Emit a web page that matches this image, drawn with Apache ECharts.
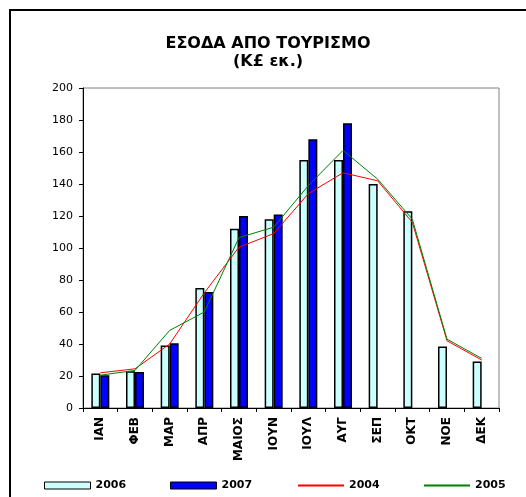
<!DOCTYPE html>
<html>
<head>
<meta charset="utf-8">
<script src="https://cdn.jsdelivr.net/npm/echarts@6/dist/echarts.min.js"></script>
<style>html,body{margin:0;padding:0;background:#fff;}#c{width:526px;height:497px;}</style>
</head>
<body>
<div id="c"></div>
<script>
const months = ['ΙΑΝ','ΦΕΒ','ΜΑΡ','ΑΠΡ','ΜΑΙΟΣ','ΙΟΥΝ','ΙΟΥΛ','ΑΥΓ','ΣΕΠ','ΟΚΤ','ΝΟΕ','ΔΕΚ'];
const v2006 = [21.5, 23, 39, 75, 112, 118, 155, 155, 140, 123, 38.5, 29];
const v2007 = [20.5, 22.5, 40.5, 72.5, 120, 121, 168, 178, null, null, null, null];
const v2004 = [22, 24.5, 40, 72, 100.5, 109, 134, 147, 142, 116, 42, 30];
const v2005 = [20.5, 23.5, 48.5, 60, 106.5, 113, 139, 161, 143, 118, 43, 31];
const yTicks = {min: 0, max: 200, interval: 20};
const titleText = 'ΕΣΟΔΑ ΑΠΟ ΤΟΥΡΙΣΜΟ\n(Κ£ εκ.)';

const chart = echarts.init(document.getElementById('c'), null, {renderer: 'canvas'});
const FONT = 'DejaVu Sans';
const legendText = {fontFamily: FONT, fontSize: 11, fontWeight: 'bold', color: '#000'};
chart.setOption({
  animation: false,
  backgroundColor: '#fff',
  title: {
    text: titleText, left: 268, top: 35, textAlign: 'center', padding: 0,
    textStyle: {fontFamily: FONT, fontSize: 16, fontWeight: 'bold', color: '#000', lineHeight: 18}
  },
  graphic: [{
    type: 'rect', shape: {x: 10, y: 10, width: 540, height: 520},
    style: {fill: 'none', stroke: '#000', lineWidth: 2}, silent: true
  }],
  legend: [
    {data: [{name: '2006', icon: 'rect'}], left: 44, top: 480, itemWidth: 46, itemHeight: 7, padding: 0,
     itemStyle: {borderColor: '#000', borderWidth: 1}, textStyle: legendText},
    {data: [{name: '2007', icon: 'rect'}], left: 170, top: 480, itemWidth: 46, itemHeight: 7, padding: 0,
     itemStyle: {borderColor: '#000', borderWidth: 1}, textStyle: legendText},
    {data: [{name: '2004', itemStyle: {opacity: 0}}], left: 297, top: 480,
     itemWidth: 46, itemHeight: 7, padding: 0, textStyle: legendText},
    {data: [{name: '2005', itemStyle: {opacity: 0}}], left: 423, top: 480,
     itemWidth: 46, itemHeight: 7, padding: 0, textStyle: legendText}
  ],
  grid: {left: 83, top: 88, right: 27, bottom: 89, containLabel: false, show: true,
         borderColor: '#808080', borderWidth: 1, backgroundColor: 'transparent'},
  xAxis: {
    type: 'category', data: months, boundaryGap: true,
    axisLine: {lineStyle: {color: '#000', width: 1}},
    axisTick: {show: true, length: 4, alignWithLabel: false, interval: 0, lineStyle: {color: '#000'}},
    axisLabel: {rotate: 90, interval: 0, margin: 9, fontFamily: FONT, fontSize: 12, fontWeight: 'bold', color: '#000'},
    splitLine: {show: false}
  },
  yAxis: {
    type: 'value', min: yTicks.min, max: yTicks.max, interval: yTicks.interval,
    axisLine: {show: true, lineStyle: {color: '#000', width: 1}},
    axisTick: {show: true, length: 4, inside: false, lineStyle: {color: '#000'}},
    axisLabel: {margin: 10, fontFamily: FONT, fontSize: 11, color: '#000'},
    splitLine: {show: false}
  },
  series: [
    {name: '2006', type: 'bar', data: v2006, barWidth: 9, barGap: '0%',
     itemStyle: {color: '#CCFFFF', borderColor: '#000', borderWidth: 1.5}},
    {name: '2007', type: 'bar', data: v2007, barWidth: 9, barGap: '0%',
     itemStyle: {color: '#0000FF', borderColor: '#000', borderWidth: 1.5}},
    {name: '2004', type: 'line', data: v2004, symbol: 'none', z: 5,
     lineStyle: {color: '#FF0000', width: 1}, itemStyle: {color: '#FF0000'}},
    {name: '2005', type: 'line', data: v2005, symbol: 'none', z: 5,
     lineStyle: {color: '#008000', width: 1}, itemStyle: {color: '#008000'}}
  ]
});
</script>
</body>
</html>
